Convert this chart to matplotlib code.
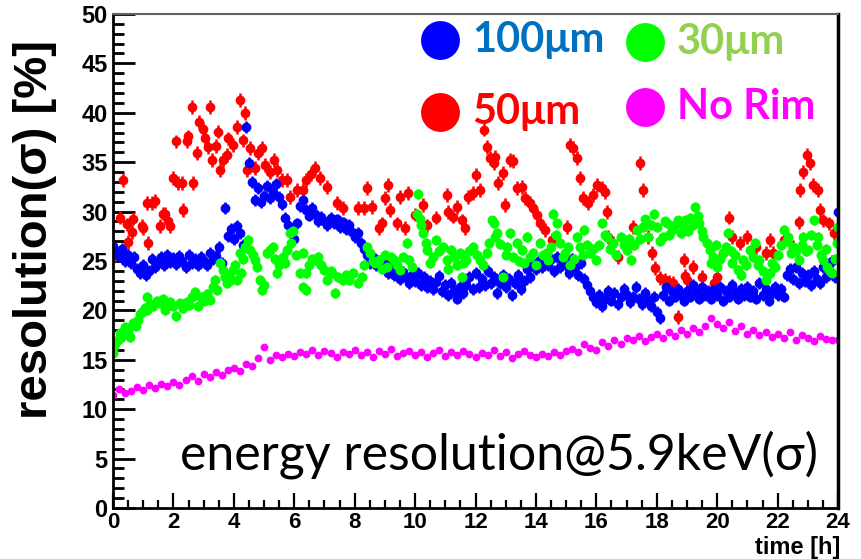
import numpy as np
import matplotlib
matplotlib.use('Agg')
import matplotlib.pyplot as plt
from matplotlib.ticker import MultipleLocator

# 100um: one reading every 0.1 h from t = 0 to 24 h
dt_100 = 0.1
res_100 = [
    26.5, 26.0, 25.5, 26.2, 25.0, 25.6, 24.8, 25.4, 24.2, 23.8,
    24.6, 23.6, 24.0, 25.2, 24.4, 24.8, 25.4, 24.6, 25.6, 24.9,
    25.3, 24.7, 25.5, 25.0, 24.4, 25.6, 24.8, 25.2, 24.6, 25.4,
    25.0, 24.6, 25.8, 25.2, 25.5, 26.4, 24.8, 30.4, 27.5, 28.2,
    27.2, 28.5, 27.8, 26.6, 38.6, 34.9, 33.0, 31.2, 32.4, 31.0,
    31.6, 32.6, 31.4, 32.0, 32.8, 31.5, 30.8, 29.4, 28.6, 27.8,
    27.2, 28.8, 30.6, 31.2, 30.2, 29.6, 30.4, 29.8, 29.0, 29.5,
    29.0, 28.6, 29.4, 28.8, 29.2, 28.4, 28.9, 28.2, 28.6, 27.9,
    27.4, 27.8, 26.8, 26.2, 25.6, 24.8, 25.4, 24.6, 25.0, 24.4,
    24.8, 23.8, 24.4, 23.6, 24.2, 23.2, 23.9, 23.4, 22.8, 23.6,
    23.0, 23.8, 22.6, 23.4, 22.4, 23.0, 22.2, 22.9, 23.5, 22.0,
    22.6, 21.6, 22.8, 22.0, 21.2, 22.4, 21.8, 22.6, 23.4, 22.2,
    23.8, 22.4, 23.2, 22.6, 24.0, 22.8, 23.4, 21.8, 22.8, 23.6,
    22.4, 23.2, 21.6, 22.8, 23.6, 22.2, 23.0, 24.2, 23.4, 24.8,
    24.2, 25.0, 24.4, 25.6, 24.6, 25.2, 24.0, 25.4, 24.4, 25.0,
    24.6, 23.8, 25.2, 24.4, 23.6, 24.8, 23.2, 22.6, 22.0, 21.4,
    20.8, 21.6, 20.4, 21.2, 22.0, 21.0, 21.8, 20.6, 21.4, 22.2,
    21.6, 20.8, 21.4, 22.4, 21.2, 20.6, 21.8, 21.0, 20.4, 21.4,
    19.8, 19.2, 21.6, 22.4, 21.0, 22.0, 21.4, 22.2, 21.6, 21.0,
    22.0, 21.4, 22.6, 21.8, 21.2, 22.4, 21.6, 22.0, 21.2, 22.2,
    21.6, 22.4, 21.0, 22.0, 21.4, 22.6, 21.8, 21.2, 22.2, 21.6,
    22.4, 21.4, 22.0, 21.2, 22.8, 21.6, 22.2, 21.0, 21.8, 22.4,
    21.6, 22.2, 21.4, 23.6, 24.2, 23.2, 24.4, 22.8, 23.8, 23.0,
    23.6, 22.6, 24.0, 23.2, 22.8, 24.4, 23.4, 24.6, 25.0, 23.4,
    30.0,
]
err_100 = 0.6

# No Rim: one reading every 0.2 h
dt_norim = 0.2
res_norim = [
    11.4, 12.0, 11.6, 11.8, 12.2, 11.9, 12.4, 12.1, 12.6, 12.3,
    12.8, 12.5, 13.0, 13.4, 12.9, 13.6, 13.3, 13.8, 13.5, 14.0,
    14.2, 13.9, 14.6, 14.4, 15.2, 16.3, 15.0, 15.5, 15.3, 15.6,
    15.4, 15.8, 15.6, 16.0, 15.5, 15.9, 15.7, 15.3, 15.8, 15.6,
    16.0, 15.5, 15.8, 15.3, 15.9, 15.6, 16.1, 15.4, 15.7, 15.9,
    15.5, 15.8, 15.3, 15.7, 16.0, 15.4, 15.8, 15.5, 15.9, 15.6,
    15.3, 15.7, 15.5, 16.0, 15.4, 15.8, 15.2, 15.6, 15.9, 15.5,
    15.3, 15.6, 15.4, 15.8, 15.5, 15.9, 16.1, 15.8, 16.6, 16.2,
    16.0, 16.8, 16.4, 17.0, 16.6, 17.2, 17.0, 17.4, 16.9, 17.3,
    17.6, 17.2, 17.8, 17.4, 18.0, 17.6, 18.2, 17.8, 18.4, 19.2,
    18.6, 18.2, 18.8, 17.9, 18.4, 17.6, 18.0, 17.5, 17.8, 17.3,
    17.6, 17.2, 17.8, 17.0, 17.5, 17.2, 16.9, 17.4, 17.1, 17.0,
    17.0,
]

# 30um readings (time [h], resolution [%])
t_30 = [
    0.0, 0.0, 0.05, 0.15, 0.23, 0.3, 0.4, 0.5, 0.56, 0.66, 0.75, 0.83, 0.9, 0.96,
    1.05, 1.12, 1.12, 1.22, 1.33, 1.45, 1.56, 1.65, 1.72, 1.8, 1.89,
    2.0, 2.1, 2.22, 2.33, 2.44, 2.52, 2.6, 2.7, 2.8, 2.9,
    3.0, 3.1, 3.2, 3.3, 3.38, 3.45, 3.54, 3.64, 3.7, 3.77, 3.85, 3.9, 3.97,
    4.05, 4.1, 4.2, 4.25, 4.3, 4.37, 4.47, 4.55, 4.62, 4.7, 4.78, 4.87, 4.93,
    5.0, 5.1, 5.2, 5.3, 5.36, 5.43, 5.5, 5.63, 5.7, 5.76, 5.86, 5.9, 5.95,
    6.05, 6.2, 6.3, 6.3, 6.4, 6.4, 6.5, 6.6, 6.7, 6.8, 6.9, 6.97,
    7.1, 7.2, 7.25, 7.35, 7.45, 7.6, 7.7, 7.8, 7.95,
    8.1, 8.25, 8.3, 8.4, 8.5, 8.6, 8.67, 8.8, 8.9,
    9.0, 9.07, 9.2, 9.3, 9.4, 9.5, 9.6, 9.73, 9.8, 9.9,
    10.05, 10.1, 10.15, 10.2, 10.27, 10.35, 10.4, 10.5, 10.6, 10.7, 10.8, 10.93,
    11.05, 11.1, 11.2, 11.3, 11.4, 11.5, 11.56, 11.6, 11.7, 11.8, 11.93,
    12.05, 12.15, 12.25, 12.38, 12.45, 12.55, 12.6, 12.65, 12.7, 12.8, 12.9,
    13.0, 13.05, 13.15, 13.25, 13.37, 13.45, 13.53, 13.6, 13.7, 13.8, 13.9,
    14.0, 14.14, 14.25, 14.36, 14.4, 14.5, 14.57, 14.65, 14.7, 14.8, 14.9, 14.97,
    15.05, 15.13, 15.25, 15.36, 15.46, 15.55, 15.6, 15.7, 15.8, 15.9,
    16.0, 16.1, 16.2, 16.28, 16.36, 16.45, 16.56, 16.65, 16.8, 16.9,
    17.0, 17.08, 17.14, 17.25, 17.36, 17.45, 17.56, 17.62, 17.7, 17.8, 17.9,
    18.0, 18.1, 18.2, 18.28, 18.35, 18.42, 18.5, 18.6, 18.7, 18.8, 18.9, 18.95,
    19.05, 19.1, 19.2, 19.27, 19.35, 19.4, 19.5, 19.54, 19.65, 19.76, 19.8, 19.87, 19.95,
    20.0, 20.1, 20.2, 20.3, 20.36, 20.45, 20.5, 20.6, 20.7, 20.8, 20.85, 20.95,
    21.1, 21.2, 21.26, 21.35, 21.4, 21.5, 21.6, 21.75, 21.8, 21.9,
    22.0, 22.1, 22.2, 22.3, 22.35, 22.45, 22.5, 22.6, 22.7, 22.8, 22.85, 22.95,
    23.0, 23.1, 23.2, 23.3, 23.35, 23.45, 23.5, 23.6, 23.65, 23.75, 23.8, 23.9, 23.95,
    24.0,
]
res_30 = [
    15.7, 16.3, 16.6, 17.0, 17.7, 17.4, 18.3, 18.0, 17.3, 18.7, 18.4, 19.0, 19.6, 19.8,
    20.2, 21.4, 20.0, 20.6, 20.4, 21.0, 20.7, 21.2, 20.0, 20.6, 20.9,
    20.4, 19.4, 20.7, 20.2, 20.9, 20.5, 21.4, 21.9, 20.4, 21.4,
    21.0, 21.7, 21.1, 22.4, 23.1, 22.1, 24.8, 24.1, 23.4, 22.8, 23.6, 23.1, 24.1,
    24.6, 23.1, 25.8, 23.8, 25.2, 26.4, 27.1, 26.1, 25.6, 25.1, 24.4, 23.1, 22.1,
    22.6, 25.8, 26.1, 26.4, 25.2, 23.8, 24.6, 25.4, 24.8, 26.1, 27.8, 26.8, 28.0,
    25.6, 23.8, 22.4, 25.8, 23.8, 22.1, 24.6, 25.2, 25.1, 25.4, 24.6, 24.1,
    23.1, 24.0, 23.8, 21.8, 23.4, 23.1, 23.6, 23.1, 23.8,
    22.8, 23.4, 24.6, 26.4, 25.8, 25.0, 24.8, 25.1, 24.2,
    25.6, 24.4, 25.4, 25.1, 24.6, 24.1, 25.4, 26.8, 25.1, 24.4,
    29.8, 31.8, 29.3, 28.6, 27.8, 26.8, 26.1, 24.8, 25.4, 27.1, 26.0, 26.4,
    25.1, 24.2, 26.1, 25.4, 24.6, 25.8, 23.4, 24.8, 25.1, 26.0, 26.4,
    25.6, 25.1, 24.6, 25.8, 26.8, 29.1, 28.8, 27.4, 27.8, 26.7, 23.4,
    25.6, 26.4, 27.8, 25.4, 26.8, 25.0, 26.1, 24.8, 27.4, 25.4, 25.8,
    24.6, 26.8, 25.6, 25.8, 25.1, 26.4, 29.8, 27.6, 28.8, 26.8, 25.4, 25.8,
    26.4, 24.6, 25.2, 27.4, 26.4, 25.6, 28.1, 26.6, 25.8, 26.2,
    25.1, 26.6, 28.8, 27.6, 27.4, 26.2, 26.8, 25.6, 27.4, 26.6,
    26.1, 27.2, 25.1, 26.6, 28.1, 27.2, 28.4, 29.2, 27.4, 28.6, 29.8,
    28.4, 27.0, 27.4, 29.0, 28.8, 27.6, 28.1, 28.6, 29.1, 27.8, 28.4, 29.1,
    28.0, 29.4, 28.6, 30.5, 29.6, 28.8, 28.0, 27.4, 26.8, 26.1, 24.8, 25.4, 26.6,
    24.4, 25.2, 25.8, 26.4, 27.8, 26.0, 24.8, 25.6, 24.1, 23.6, 25.1, 24.6,
    26.1, 25.4, 26.8, 24.6, 25.1, 24.0, 23.1, 23.8, 24.8, 24.4,
    25.6, 26.6, 28.1, 27.0, 27.4, 25.8, 26.4, 26.0, 25.1, 26.6, 27.4, 26.0,
    26.1, 27.6, 29.1, 26.6, 27.4, 25.6, 25.1, 26.2, 24.4, 24.0, 23.8, 25.2, 26.8,
    28.4,
]
err_30 = 0.5

# 50um readings (time [h], resolution [%])
t_50 = [
    0.0, 0.23, 0.33, 0.46, 0.5, 0.63, 0.66, 0.96,
    1.0, 1.12, 1.16, 1.3, 1.39, 1.56, 1.66, 1.72, 1.82, 1.89,
    2.0, 2.09, 2.15, 2.28, 2.33, 2.44, 2.49, 2.61, 2.65, 2.78, 2.86, 2.98,
    3.05, 3.15, 3.2, 3.27, 3.41, 3.48, 3.54, 3.64, 3.77, 3.81, 3.97,
    4.1, 4.2, 4.3, 4.37, 4.43, 4.54, 4.7, 4.8, 4.93,
    5.03, 5.2, 5.33, 5.43, 5.6, 5.76, 5.86,
    6.09, 6.3, 6.4, 6.55, 6.7, 6.85, 7.07, 7.4, 7.6,
    8.1, 8.3, 8.4, 8.57, 8.8, 8.9, 9.0, 9.1, 9.17, 9.4, 9.5, 9.67, 9.77,
    10.0, 10.27, 10.4, 10.7, 11.05, 11.1, 11.27, 11.4, 11.55, 11.66, 11.76, 11.93,
    12.0, 12.15, 12.27, 12.38, 12.48, 12.6, 12.65, 12.76, 12.9, 12.97,
    13.15, 13.25, 13.37, 13.53, 13.65, 13.8, 13.9,
    14.03, 14.14, 14.3, 14.53, 15.03, 15.13, 15.23, 15.36, 15.46, 15.56, 15.73, 15.9,
    16.03, 16.2, 16.3, 16.36, 16.4, 16.56, 16.7,
    17.2, 17.45, 17.56, 17.7, 17.85, 17.95,
    18.1, 18.28, 18.4, 18.55, 18.7, 18.9, 18.95,
    19.0, 19.2, 19.5, 19.9, 20.0, 20.2, 20.4, 20.5, 20.75,
    21.0, 21.3, 21.6, 21.75, 21.86, 22.2, 22.5, 22.7, 22.75, 22.85, 22.97,
    23.08, 23.18, 23.35, 23.4, 23.5, 23.7, 23.85, 24.0,
]
res_50 = [
    25.4, 29.4, 33.2, 28.7, 26.9, 27.9, 29.3, 28.5,
    28.3, 30.9, 26.8, 30.9, 31.1, 28.5, 29.8, 29.8, 29.0, 28.5,
    33.4, 37.1, 32.9, 32.9, 30.2, 37.1, 37.6, 40.6, 32.9, 35.9, 39.1, 38.4,
    37.4, 36.5, 40.6, 35.2, 36.6, 38.1, 34.2, 35.2, 35.7, 37.4, 36.7,
    38.6, 41.3, 37.2, 40.0, 34.2, 36.4, 34.4, 35.9, 36.4,
    34.7, 34.0, 35.2, 34.2, 33.2, 33.2, 31.5,
    32.2, 32.2, 33.2, 33.8, 34.4, 33.4, 32.5, 30.9, 30.4,
    30.4, 30.4, 32.4, 30.5, 28.3, 28.8, 31.4, 32.7, 30.2, 28.8, 31.5, 28.3, 31.9,
    29.7, 30.7, 28.6, 29.4, 31.7, 30.0, 29.5, 30.5, 29.1, 28.3, 31.5, 31.9,
    33.7, 32.2, 38.3, 36.5, 35.4, 34.9, 35.5, 32.9, 33.9, 30.7,
    35.2, 35.1, 32.4, 32.5, 31.4, 30.9, 30.4,
    29.7, 28.8, 28.1, 27.1, 28.4, 36.7, 36.4, 35.4, 33.4, 31.4, 30.9, 31.7,
    32.7, 32.4, 32.0, 30.0, 27.4, 26.8, 25.4,
    28.4, 34.9, 32.2, 27.4, 25.8, 24.3,
    23.3, 23.1, 22.9, 22.8, 19.3, 25.1, 23.5,
    23.1, 24.4, 23.4, 22.8, 23.4, 25.8, 29.4, 27.4, 26.8,
    27.4, 26.4, 25.8, 27.1, 25.8, 27.1, 26.4, 28.9, 32.2, 34.0, 35.7,
    34.9, 32.7, 32.2, 30.2, 29.1, 28.8, 27.8, 26.8,
]
err_50 = 0.7

legend_labels = ['100\u03bcm', '30\u03bcm', '50\u03bcm', 'No Rim']
legend_marker_colors = ['#0000ff', '#00ff00', '#ff0000', '#ff00ff']
legend_text_colors = ['#0070c0', '#92d050', '#ff0000', '#ff00ff']

t_100 = np.arange(len(res_100)) * dt_100
t_norim = np.arange(len(res_norim)) * dt_norim

fig = plt.figure(figsize=(8.62, 5.59), dpi=100)
ax = fig.add_axes([0.1311, 0.0912, 0.8411, 0.8838])

ax.errorbar(t_50, res_50, yerr=err_50, fmt='o', color='#ff0000', ms=7,
            mew=0, elinewidth=1.8, capsize=2)
ax.errorbar(t_100, res_100, yerr=err_100, fmt='o', color='#0000ff', ms=7,
            mew=0, elinewidth=1.8, capsize=2)
ax.errorbar(t_30, res_30, yerr=err_30, fmt='o', color='#00ff00', ms=7.2,
            mew=0, elinewidth=1.8, capsize=2)
ax.plot(t_norim, res_norim, 'o', color='#ff00ff', ms=5.6, mew=0)

ax.set_xlim(0, 24)
ax.set_ylim(0, 50)
ax.xaxis.set_major_locator(MultipleLocator(2))
ax.xaxis.set_minor_locator(MultipleLocator(0.5))
ax.yaxis.set_major_locator(MultipleLocator(5))
ax.yaxis.set_minor_locator(MultipleLocator(1))
ax.tick_params(axis='y', which='major', direction='in', length=16, width=2,
               pad=4, labelsize=17)
ax.tick_params(axis='y', which='minor', direction='in', length=8, width=2)
ax.tick_params(axis='x', which='major', direction='in', length=11, width=1.6,
               pad=3, labelsize=16)
ax.tick_params(axis='x', which='minor', direction='in', length=5.5, width=1.6)
for lab in ax.get_yticklabels() + ax.get_xticklabels():
    lab.set_fontweight('bold')
    lab.set_family(['Liberation Sans', 'DejaVu Sans'])

for side in ['left', 'bottom']:
    ax.spines[side].set_linewidth(2)
    ax.spines[side].set_color('black')
ax.spines['top'].set_linewidth(1.5)
ax.spines['top'].set_color('#606060')
ax.spines['right'].set_linewidth(2.5)
ax.spines['right'].set_color('black')

ax.text(-0.108, 0.563, 'resolution(\u03c3) [%]', transform=ax.transAxes,
        rotation=90, ha='center', va='center', fontsize=34, fontweight='bold',
        family=['Liberation Sans', 'DejaVu Sans'])
ax.text(1.003, -0.08, 'time [h]', transform=ax.transAxes, ha='right',
        va='center', fontsize=17, fontweight='bold',
        family=['Liberation Sans Narrow', 'Liberation Sans'])

ax.text(0.0924, 0.077, 'energy resolution@5.9keV(\u03c3)', transform=ax.transAxes,
        ha='left', va='baseline', fontsize=36, family=['Lato', 'DejaVu Sans'])

# two-column legend in the upper right corner
key_x = [0.451, 0.734, 0.451, 0.734]
key_y = [0.947, 0.943, 0.801, 0.811]
for lbl, mc, tc, kx, ky in zip(legend_labels, legend_marker_colors,
                               legend_text_colors, key_x, key_y):
    ax.plot([kx], [ky], 'o', color=mc, ms=28, mew=0, transform=ax.transAxes,
            clip_on=False)
    ax.text(kx + 0.044, ky, lbl, transform=ax.transAxes, ha='left', va='center',
            fontsize=30, fontweight='bold', color=tc,
            family=['Lato', 'DejaVu Sans'])

fig.savefig('out.png', dpi=100)
